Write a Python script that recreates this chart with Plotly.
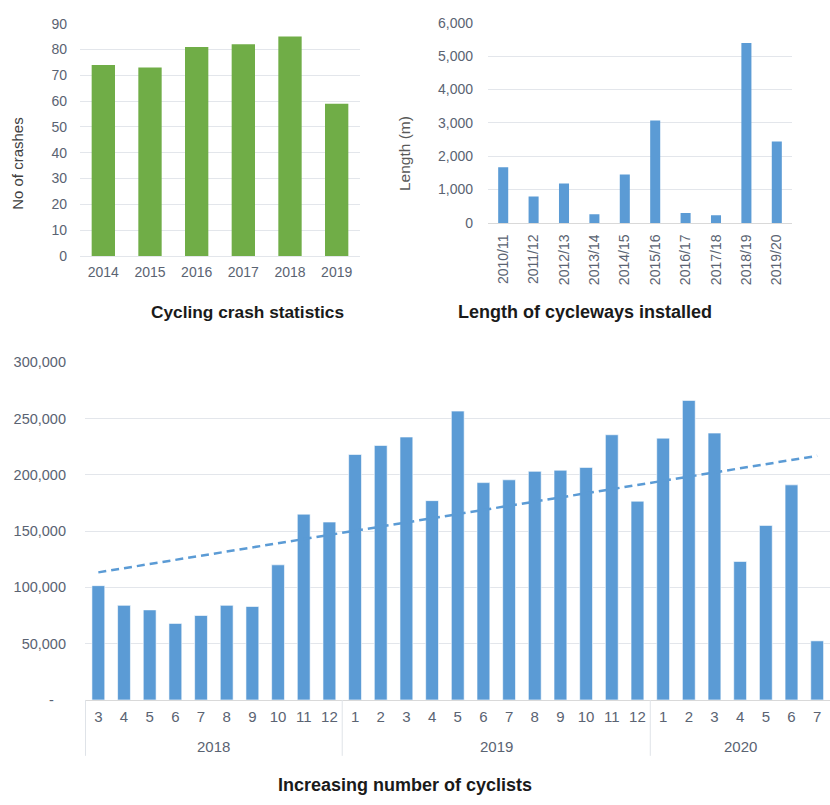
import plotly.graph_objects as go

# ---- data ----
crash_years = ["2014", "2015", "2016", "2017", "2018", "2019"]
crash_counts = [74, 73, 81, 82, 85, 59]

cycleway_years = ["2010/11", "2011/12", "2012/13", "2013/14", "2014/15",
                  "2015/16", "2016/17", "2017/18", "2018/19", "2019/20"]
cycleway_length = [1670, 790, 1180, 260, 1450, 3070, 300, 230, 5390, 2440]

cyclist_years = ["2018"] * 10 + ["2019"] * 12 + ["2020"] * 7
cyclist_months = ["3", "4", "5", "6", "7", "8", "9", "10", "11", "12",
                  "1", "2", "3", "4", "5", "6", "7", "8", "9", "10", "11", "12",
                  "1", "2", "3", "4", "5", "6", "7"]
cyclist_counts = [101500, 84000, 80000, 68000, 75000, 84000, 83000, 120000, 165000, 158000,
                  218000, 226000, 233500, 177000, 256500, 193000, 195500, 203000, 204000,
                  206500, 235500, 176500,
                  232500, 266000, 237000, 123000, 155000, 191000, 52500]
trend_values = [113300, 216800]   # dashed trendline at first and last month

bottom_ticks = [0, 50000, 100000, 150000, 200000, 250000, 300000]
bottom_ticktext = ["-\u00a0\u00a0\u00a0", "50,000", "100,000", "150,000", "200,000", "250,000", "300,000"]

W, H = 830, 805
TICK = "#5a6372"
GRID = "#e3e6eb"
DIV = "#dfe3e8"
FONT = "Liberation Sans"

def px_x(a, b):
    return [max(0.0, a / W), min(1.0, b / W)]

def px_y(top, bottom):
    return [(H - bottom) / H, (H - top) / H]

# unique category keys for each (year, month) so the axis keeps data order
cat_keys = [f"{y}-{m}" for y, m in zip(cyclist_years, cyclist_months)]

# year groups (start index, end index) derived from the data
groups = []
for i, y in enumerate(cyclist_years):
    if not groups or groups[-1][0] != y:
        groups.append([y, i, i])
    else:
        groups[-1][2] = i

fig = go.Figure()

fig.add_trace(go.Bar(x=crash_years, y=crash_counts, width=0.5,
                     marker=dict(color="#70ad47", line=dict(width=0)),
                     xaxis="x", yaxis="y", showlegend=False))
fig.add_trace(go.Bar(x=cycleway_years, y=cycleway_length, width=0.33,
                     marker=dict(color="#5b9bd5", line=dict(width=0)),
                     xaxis="x2", yaxis="y2", showlegend=False))
fig.add_trace(go.Bar(x=cat_keys, y=cyclist_counts, width=0.5,
                     marker=dict(color="#5b9bd5", line=dict(width=1, color="rgba(255,255,255,0.6)")),
                     xaxis="x3", yaxis="y3", showlegend=False))
fig.add_trace(go.Scatter(x=[cat_keys[0], cat_keys[-1]], y=trend_values, mode="lines",
                         line=dict(color="#5b9bd5", width=2.5, dash="8px,5px"),
                         xaxis="x3", yaxis="y3", showlegend=False))

annotations = [
    dict(text="No of crashes", x=18 / W, y=(H - 159) / H, xref="paper", yref="paper",
         xanchor="center", yanchor="middle",
         textangle=-90, showarrow=False, font=dict(size=15, color="#404040")),
    dict(text="Length (m)", x=404 / W, y=(H - 149) / H, xref="paper", yref="paper",
         xanchor="center", yanchor="middle",
         textangle=-90, showarrow=False, font=dict(size=15.5, color="#595959")),
    dict(text="<b>Cycling crash statistics</b>", x=247 / W, y=(H - 310) / H,
         xref="paper", yref="paper", xanchor="center", yanchor="middle", showarrow=False,
         font=dict(size=17.3, color="#1a1a1a")),
    dict(text="<b>Length of cycleways installed</b>", x=585 / W, y=(H - 310) / H,
         xref="paper", yref="paper", xanchor="center", yanchor="middle", showarrow=False,
         font=dict(size=18, color="#1a1a1a")),
    dict(text="<b>Increasing number of cyclists</b>", x=405 / W, y=(H - 793) / H,
         xref="paper", yref="paper", xanchor="center", yanchor="middle", showarrow=False,
         font=dict(size=18, color="#1a1a1a")),
]
shapes = []
for name, i0, i1 in groups:
    annotations.append(dict(text=name, x=(i0 + i1) / 2, y=(H - 753) / H,
                            xref="x3", yref="paper", xanchor="center", yanchor="middle",
                            showarrow=False, font=dict(size=15, color=TICK)))
    shapes.append(dict(type="line", xref="x3", yref="paper",
                       x0=i0 - 0.5, x1=i0 - 0.5, y0=(H - 763) / H, y1=(H - 706) / H,
                       line=dict(color=DIV, width=1)))

fig.update_layout(
    width=W, height=H,
    margin=dict(l=0, r=0, t=0, b=0),
    paper_bgcolor="white", plot_bgcolor="white",
    font=dict(family=FONT, size=13, color=TICK),
    xaxis=dict(domain=px_x(80, 360), anchor="y", type="category",
               showgrid=False, showline=True, linecolor=GRID, ticks="",
               tickfont=dict(size=14, color=TICK), ticklabelstandoff=3),
    yaxis=dict(domain=px_y(16, 253), anchor="x", range=[0, 90], dtick=10,
               showgrid=True, gridcolor=GRID, zeroline=False, showline=False,
               tickfont=dict(size=14, color=TICK), ticklabelstandoff=12),
    xaxis2=dict(domain=px_x(488, 792), anchor="y2", type="category",
                showgrid=False, showline=True, linecolor="#d9d9d9", ticks="",
                tickangle=-90, tickfont=dict(size=14, color=TICK), ticklabelstandoff=5),
    yaxis2=dict(domain=px_y(15, 219.3), anchor="x2", range=[0, 6000], dtick=1000,
                tickformat=",", showgrid=True, gridcolor=GRID, zeroline=False,
                tickfont=dict(size=14, color=TICK), ticklabelstandoff=14),
    xaxis3=dict(domain=px_x(85, 830), anchor="y3", type="category",
                categoryorder="array", categoryarray=cat_keys,
                tickvals=cat_keys, ticktext=cyclist_months,
                showgrid=False, showline=True, linecolor="#d9d9d9", ticks="",
                tickfont=dict(size=15, color=TICK), ticklabelstandoff=3),
    yaxis3=dict(domain=px_y(361.3, 706), anchor="x3", range=[0, 300000],
                tickvals=bottom_ticks, ticktext=bottom_ticktext,
                showgrid=True, gridcolor=GRID, zeroline=False,
                tickfont=dict(size=14.5, color=TICK), ticklabelstandoff=18),
    annotations=annotations,
    shapes=shapes,
)

fig.write_html("out.html")
